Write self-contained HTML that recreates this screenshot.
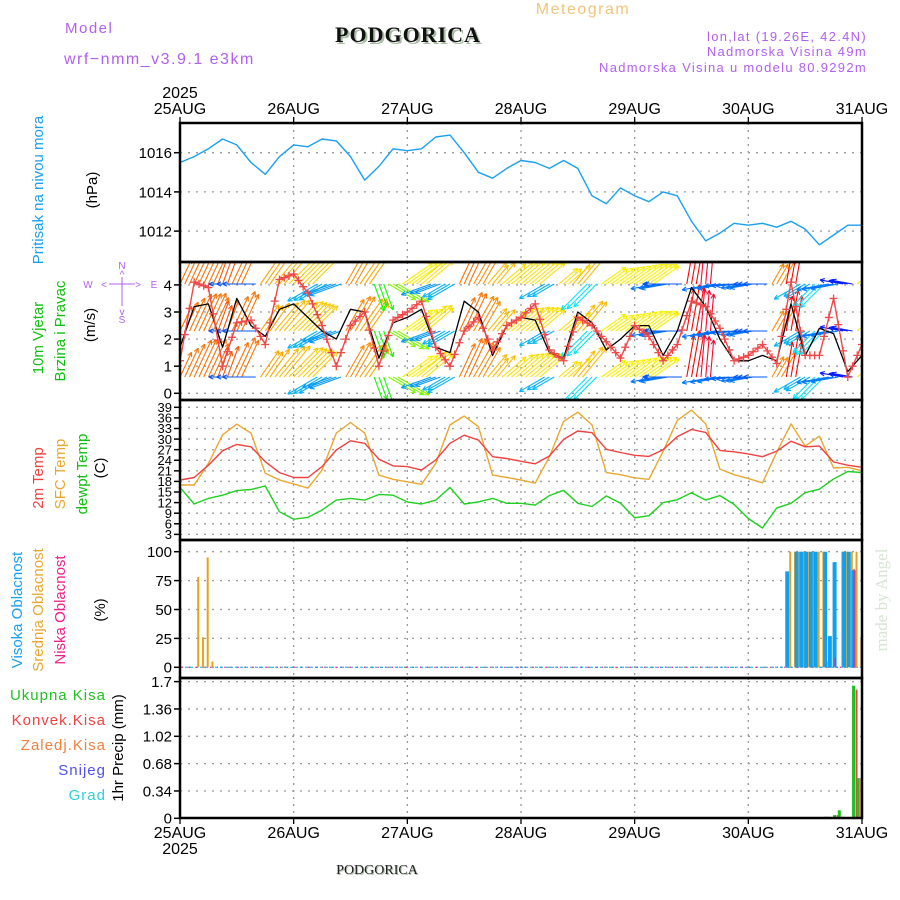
<!DOCTYPE html>
<html><head><meta charset="utf-8"><title>Meteogram Podgorica</title>
<style>
html,body{margin:0;padding:0;background:#fff;}
svg{display:block;font-family:"Liberation Sans",sans-serif;}
</style></head>
<body>
<svg id="chart" width="900" height="900" viewBox="0 0 900 900" xmlns="http://www.w3.org/2000/svg">
  <g>
    <text x="65" y="33" font-size="15" fill="#b060f0" letter-spacing="1.5">Model</text>
    <text x="64" y="64" font-size="16" fill="#b060f0" letter-spacing="1.5">wrf−nmm_v3.9.1 e3km</text>
    <text x="410" y="44" font-size="22" font-weight="bold" font-family="Liberation Serif, serif" fill="#a9bca5" text-anchor="middle" letter-spacing="1">PODGORICA</text>
    <text x="408" y="42" font-size="22" font-weight="bold" font-family="Liberation Serif, serif" fill="#111" text-anchor="middle" letter-spacing="1">PODGORICA</text>
    <text x="583" y="14" font-size="16" fill="#f2c47a" text-anchor="middle" letter-spacing="1.5">Meteogram</text>
    <text x="867" y="41" font-size="13" fill="#b060f0" text-anchor="end" letter-spacing="1.3">lon,lat (19.26E, 42.4N)</text>
    <text x="867" y="56" font-size="13" fill="#b060f0" text-anchor="end" letter-spacing="1.3">Nadmorska Visina 49m</text>
    <text x="867" y="72" font-size="13" fill="#b060f0" text-anchor="end" letter-spacing="1.3">Nadmorska Visina u modelu 80.9292m</text>
    <text x="378" y="875" font-size="14" font-family="Liberation Serif, serif" fill="#a9bca5" text-anchor="middle">PODGORICA</text>
    <text x="377" y="874" font-size="14" font-family="Liberation Serif, serif" fill="#222" text-anchor="middle">PODGORICA</text>
    <text x="887" y="600" font-size="17" font-family="Liberation Serif, serif" fill="#d8e4d4" text-anchor="middle" transform="rotate(-90 887 600)">made by Angel</text>
  </g>
  <g>
    <text x="43" y="190" font-size="15" fill="#1aa0f0" text-anchor="middle" transform="rotate(-90 43 190)">Pritisak na nivou mora</text>
    <text x="97" y="190" font-size="15" fill="#000" text-anchor="middle" transform="rotate(-90 97 190)">(hPa)</text>
    <text x="43" y="338" font-size="15" fill="#10c010" text-anchor="middle" transform="rotate(-90 43 338)">10m Vjetar</text>
    <text x="65" y="331" font-size="15" fill="#10c010" text-anchor="middle" transform="rotate(-90 65 331)">Brzina i Pravac</text>
    <text x="95" y="325" font-size="15" fill="#000" text-anchor="middle" transform="rotate(-90 95 325)">(m/s)</text>
    <g fill="#b060f0" font-size="10" text-anchor="middle">
      <text x="122" y="269">N</text><text x="88" y="288">W</text><text x="154" y="288">E</text><text x="122" y="323">S</text>
      <text x="122" y="278">^</text><text x="122" y="315">v</text><text x="104" y="288">&lt;</text><text x="138" y="288">&gt;</text>
      <line x1="109" y1="284" x2="135" y2="284" stroke="#b060f0" stroke-width="1"/>
      <line x1="122" y1="277" x2="122" y2="306" stroke="#b060f0" stroke-width="1"/>
    </g>
    <text x="43" y="478" font-size="15" fill="#f04040" text-anchor="middle" transform="rotate(-90 43 478)">2m Temp</text>
    <text x="65" y="474" font-size="15" fill="#e8a830" text-anchor="middle" transform="rotate(-90 65 474)">SFC Temp</text>
    <text x="87" y="474" font-size="15" fill="#10c010" text-anchor="middle" transform="rotate(-90 87 474)">dewpt Temp</text>
    <text x="105" y="468" font-size="15" fill="#000" text-anchor="middle" transform="rotate(-90 105 468)">(C)</text>
    <text x="22" y="610" font-size="15" fill="#1aa0f0" text-anchor="middle" transform="rotate(-90 22 610)">Visoka Oblacnost</text>
    <text x="43" y="610" font-size="15" fill="#e8a830" text-anchor="middle" transform="rotate(-90 43 610)">Srednja Oblacnost</text>
    <text x="65" y="610" font-size="15" fill="#f0208a" text-anchor="middle" transform="rotate(-90 65 610)">Niska Oblacnost</text>
    <text x="105" y="610" font-size="15" fill="#000" text-anchor="middle" transform="rotate(-90 105 610)">(%)</text>
    <g font-size="15" text-anchor="end" letter-spacing="1">
      <text x="106" y="700" fill="#20c020">Ukupna  Kisa</text>
      <text x="106" y="725" fill="#f04040">Konvek.Kisa</text>
      <text x="106" y="750" fill="#f08040">Zaledj.Kisa</text>
      <text x="106" y="775" fill="#5050f0">Snijeg</text>
      <text x="106" y="800" fill="#30d0d0">Grad</text>
    </g>
    <text x="123" y="748" font-size="15" fill="#000" text-anchor="middle" transform="rotate(-90 123 748)">1hr Precip (mm)</text>
  </g>
  <g id="plots"></g>
</svg>
<script>
// ---- data (3-hourly, index 0 = 25AUG 00h, 48 = 31AUG 00h) ----
const dayLabels = ["25AUG","26AUG","27AUG","28AUG","29AUG","30AUG","31AUG"];
const pressure = [1015.5,1015.8,1016.2,1016.7,1016.4,1015.5,1014.9,1015.8,1016.4,1016.3,1016.7,1016.6,1015.8,1014.6,1015.3,1016.2,1016.1,1016.2,1016.8,1016.9,1016.0,1015.0,1014.7,1015.2,1015.6,1015.5,1015.2,1015.6,1015.2,1013.8,1013.4,1014.2,1013.8,1013.5,1014.0,1013.8,1012.5,1011.5,1011.9,1012.4,1012.3,1012.4,1012.2,1012.5,1012.1,1011.3,1011.8,1012.3,1012.3];
const windSpeed = [1.7,3.2,3.3,1.7,3.5,2.5,2.1,3.1,3.3,2.8,2.3,2.0,3.1,3.0,1.3,2.6,2.8,3.1,1.7,1.5,3.4,3.0,1.4,2.5,2.8,2.7,1.5,1.3,3.0,2.6,1.6,2.0,2.5,2.5,1.4,2.3,3.9,3.2,2.0,1.2,1.2,1.4,1.2,3.3,1.4,2.4,2.2,0.8,1.4];
const windGust = [1.2,4.1,3.9,1.0,2.6,2.7,1.8,4.2,4.4,3.7,2.5,1.0,2.5,3.0,1.0,2.7,3.0,3.4,1.7,1.0,2.3,2.8,1.6,2.5,2.8,3.3,1.6,1.2,2.8,2.5,1.9,1.3,2.5,2.1,1.2,1.8,3.4,3.2,2.4,1.2,1.4,1.8,1.1,4.1,1.4,1.4,3.5,0.6,1.8];
const windDir = [205,205,205,200,205,90,215,220,225,225,60,70,210,215,340,300,235,230,70,60,205,210,220,230,230,230,60,230,220,45,235,235,235,235,80,90,190,185,80,85,80,90,210,190,60,45,80,100,230];
const temp2m = [18.4,19.1,22.6,26.7,28.5,27.8,23.6,20.5,19.1,19.1,22.2,26.9,29.5,28.8,24.3,22.4,22.2,21.2,24.1,28.8,31.1,29.7,25.0,24.5,23.7,23.0,25.2,29.9,32.3,31.8,27.1,26.2,25.4,25.1,27.0,30.7,32.7,31.9,26.8,26.4,25.8,25.0,26.6,29.4,27.8,28.0,23.5,22.6,22.0];
const tempSfc = [17.0,17.0,23.1,31.2,34.2,31.7,20.3,18.4,17.3,16.1,21.2,31.7,34.7,31.7,19.8,18.6,17.9,17.2,23.1,34.0,36.5,33.5,19.8,19.1,18.4,17.5,25.0,35.0,37.6,34.0,20.5,19.9,19.0,18.6,26.5,35.3,38.2,34.3,21.5,19.9,18.8,17.6,26.3,34.3,28.0,30.8,21.8,22.0,21.0];
const dewpoint = [16.3,11.6,13.2,14.1,15.4,15.7,16.7,9.4,7.3,7.8,9.9,12.7,13.2,12.7,14.3,14.1,12.2,11.6,12.7,16.3,11.6,12.2,13.2,11.8,11.8,11.3,14.0,15.5,11.8,10.9,13.9,11.8,7.7,8.3,12.0,12.8,14.8,12.7,14.0,11.5,7.5,4.8,10.5,11.8,14.8,15.8,18.7,20.8,20.5];
// cloud cover (hourly, hour index from 25AUG 00h)
const cloudHours = [3,4,5,6,128,129,130,131,132,133,134,135,136,137,138,139,140,141,142,143];
const highCloud  = [0,0,0,0,83,0,100,100,100,100,100,0,100,27,91,0,100,100,84,0];
const midCloud   = [78,26,95,5,100,100,100,100,100,100,100,100,5,0,0,100,100,100,100,24];
const lowCloud   = [0,0,0,0,0,0,0,0,0,0,0,0,0,0,8,0,0,0,85,0];
// precipitation (hourly)
const precipHours = [136,138,139,142,143,144];
const totalPrecip = [0.02,0.04,0.1,1.65,0.5,0.1];
const convPrecip  = [0.02,0.04,0.02,1.6,0.5,0.1];
// tick labels
const pressureTicks = [1012,1014,1016];
const windTicks = [0,1,2,3,4];
const tempTicks = [3,6,9,12,15,18,21,24,27,30,33,36,39];
const cloudTicks = [0,25,50,75,100];
const precipTicks = [0,0.34,0.68,1.02,1.36,1.7];

// ---- scales ----
const X0 = 180, X1 = 862, HOURS = 144;
const xh = h => X0 + (X1 - X0) * h / HOURS;
const yP = p => 152.7 - (p - 1016) * 19.6;
const yW = v => 393.3 - v * 27.1;
const yT = t => 407.3 + (39 - t) * 3.53;
const yC = c => 667.3 - c * 1.156;
const yR = r => 818.3 - r * 80.4;
const panels = [
  {name:'pressure', top:123, bot:262, ticks:pressureTicks, y:yP, fmt:v=>String(v), fs:15},
  {name:'wind', top:262, bot:400, ticks:windTicks, y:yW, fmt:v=>String(v), fs:15},
  {name:'temp', top:400, bot:540, ticks:tempTicks, y:yT, fmt:v=>String(v), fs:13},
  {name:'cloud', top:540, bot:678, ticks:cloudTicks, y:yC, fmt:v=>String(v), fs:15},
  {name:'precip', top:678, bot:818, ticks:precipTicks, y:yR, fmt:v=>String(v), fs:15}
];

const NS = 'http://www.w3.org/2000/svg';
const root = document.getElementById('plots');
function mk(tag, attrs, parent) {
  const e = document.createElementNS(NS, tag);
  for (const k in attrs) e.setAttribute(k, attrs[k]);
  (parent || root).appendChild(e);
  return e;
}
const defs = mk('defs', {});
panels.forEach(p => {
  const cp = mk('clipPath', {id:'clip-' + p.name}, defs);
  mk('rect', {x:X0, y:p.top, width:X1 - X0, height:p.bot - p.top}, cp);
});

// grids + ticks
panels.forEach(p => {
  const g = mk('g', {});
  
  
  p.ticks.forEach(v => {
    const y = p.y(v);
    const gl = mk('line', {x1:X0, y1:y, x2:X1, y2:y, stroke:'#999', 'stroke-width':1.3, 'stroke-dasharray':'2 6'}, g);
    
    
    mk('line', {x1:X0 - 6, y1:y, x2:X0, y2:y, stroke:'#000', 'stroke-width':1.5}, g);
    const t = mk('text', {x:X0 - 8, y:y + p.fs * 0.36, 'font-size':p.fs, 'text-anchor':'end', fill:'#000'}, g);
    t.textContent = p.fmt(v);
    
    
  });
  for (let d = 1; d < dayLabels.length - 1; d++) {
    const x = xh(d * 24);
    mk('line', {x1:x, y1:p.top, x2:x, y2:p.bot, stroke:'#999', 'stroke-width':1.3, 'stroke-dasharray':'2 5'}, g);
  }
});

// x axis labels
const xa = mk('g', {});


dayLabels.forEach((lab, d) => {
  const x = xh(d * 24);
  mk('line', {x1:x, y1:117, x2:x, y2:123, stroke:'#000', 'stroke-width':1.3}, xa);
  mk('line', {x1:x, y1:818, x2:x, y2:824, stroke:'#000', 'stroke-width':1.3}, xa);
  const t1 = mk('text', {x:x, y:114, 'font-size':16, 'text-anchor':'middle', fill:'#000'}, xa);
  t1.textContent = lab;
  
  
  const t2 = mk('text', {x:x, y:838, 'font-size':16, 'text-anchor':'middle', fill:'#000'}, xa);
  t2.textContent = lab;
  
  
});
const yr1 = mk('text', {x:180, y:98, 'font-size':16, 'text-anchor':'middle', fill:'#000'}, xa);
yr1.textContent = '2025';


const yr2 = mk('text', {x:180, y:854, 'font-size':16, 'text-anchor':'middle', fill:'#000'}, xa);
yr2.textContent = '2025';



function line(arr, yf, color, name, panel, w) {
  const pts = arr.map((v, i) => xh(i * 3).toFixed(1) + ',' + yf(v).toFixed(1)).join(' ');
  const e = mk('polyline', {points:pts, fill:'none', stroke:color, 'stroke-width':w || 1.4, 'clip-path':'url(#clip-' + panel + ')', 'stroke-linejoin':'round'});
  
  
  return e;
}
function interp(arr, h) {
  const f = h / 3, i = Math.min(Math.floor(f), arr.length - 2), r = f - i;
  return arr[i] * (1 - r) + arr[i + 1] * r;
}
// hue by wind direction (from)
const hueDirs = [0,45,90,120,180,200,215,235,300,360];
const hueVals = [130,185,220,265,340,380,400,418,450,490];
function dirHue(d) {
  for (let i = 0; i < hueDirs.length - 1; i++) {
    if (d >= hueDirs[i] && d <= hueDirs[i + 1]) {
      const r = (d - hueDirs[i]) / (hueDirs[i + 1] - hueDirs[i]);
      return (hueVals[i] + r * (hueVals[i + 1] - hueVals[i])) % 360;
    }
  }
  return 130;
}

// pressure
line(pressure, yP, '#1aa0f0', 'pressure-line', 'pressure', 1.4);

// wind arrows
const wg = mk('g', {'clip-path':'url(#clip-wind)'});


const rows = [284, 331, 377];
for (let h = 0; h <= HOURS; h++) {
  const dir = windDir[Math.min(Math.round(h / 3), windDir.length - 1)];
  const spd = interp(windSpeed, h);
  const col = 'hsl(' + dirHue(dir).toFixed(0) + ',95%,50%)';
  const b = (dir + 180) * Math.PI / 180;
  const L = 12 + 9 * spd;
  rows.forEach(ry => {
    const x1 = xh(h), y1 = ry;
    const x2 = x1 + Math.sin(b) * L, y2 = y1 - Math.cos(b) * L;
    const a = mk('g', {stroke:col, 'stroke-width':1.1, fill:'none'}, wg);
    
    
    mk('line', {x1:x1, y1:y1, x2:x2, y2:y2}, a);
    const ang = Math.atan2(y2 - y1, x2 - x1);
    [0.45, -0.45].forEach(s => {
      mk('line', {x1:x2, y1:y2, x2:x2 - 5 * Math.cos(ang + s), y2:y2 - 5 * Math.sin(ang + s)}, a);
    });
  });
}
line(windSpeed, yW, '#000', 'wind-speed-line', 'wind', 1.3);
line(windGust, yW, '#f04848', 'wind-gust-line', 'wind', 1.4);
const gm = mk('g', {stroke:'#f04848', 'stroke-width':1.3, 'clip-path':'url(#clip-wind)'});


for (let h = 0; h <= HOURS; h++) {
  const x = xh(h), y = yW(interp(windGust, h));
  mk('path', {d:'M' + (x - 4) + ' ' + y + 'h8M' + x + ' ' + (y - 4) + 'v8'}, gm);
}

// temperatures
line(tempSfc, yT, '#e8a830', 'sfc-temp-line', 'temp', 1.4);
line(temp2m, yT, '#f04040', 'temp-2m-line', 'temp', 1.4);
line(dewpoint, yT, '#20d020', 'dewpoint-line', 'temp', 1.4);

// cloud bars
const cg = mk('g', {'clip-path':'url(#clip-cloud)'});


mk('line', {x1:X0, y1:yC(0), x2:X1, y2:yC(0), stroke:'#1aa0f0', 'stroke-width':1, 'stroke-dasharray':'3 2'}, cg);
mk('line', {x1:X0 + 2, y1:yC(0), x2:X1, y2:yC(0), stroke:'#f0208a', 'stroke-width':1, 'stroke-dasharray':'1 6'}, cg);
cloudHours.forEach((h, i) => {
  const x = xh(h);
  if (highCloud[i] > 0) {
    const r = mk('rect', {x:x - 1, y:yC(highCloud[i]), width:4, height:yC(0) - yC(highCloud[i]), fill:'#10a0f0'}, cg);
    
    
  }
  if (midCloud[i] > 0) {
    const r = mk('rect', {x:x + 3, y:yC(midCloud[i]), width:2, height:yC(0) - yC(midCloud[i]), fill:'#e8a020'}, cg);
    
    
  }
  if (lowCloud[i] > 0) {
    const r = mk('rect', {x:x + 1, y:yC(lowCloud[i]), width:1.2, height:yC(0) - yC(lowCloud[i]), fill:'#f0208a'}, cg);
    
    
  }
});

// precip bars
const pg = mk('g', {'clip-path':'url(#clip-precip)'});


precipHours.forEach((h, i) => {
  const x = xh(h) + 2;
  const t = mk('rect', {x:x - 2.5, y:yR(totalPrecip[i]), width:3, height:yR(0) - yR(totalPrecip[i]), fill:'#20c020'}, pg);
  
  
  const c = mk('rect', {x:x + 1, y:yR(convPrecip[i]), width:2, height:yR(0) - yR(convPrecip[i]), fill:'#f04040'}, pg);
  
  
});

// panel frames
panels.forEach(p => {
  const r = mk('rect', {x:X0, y:p.top, width:X1 - X0, height:p.bot - p.top, fill:'none', stroke:'#000', 'stroke-width':2.5});
  
  
});
</script>
</body></html>
